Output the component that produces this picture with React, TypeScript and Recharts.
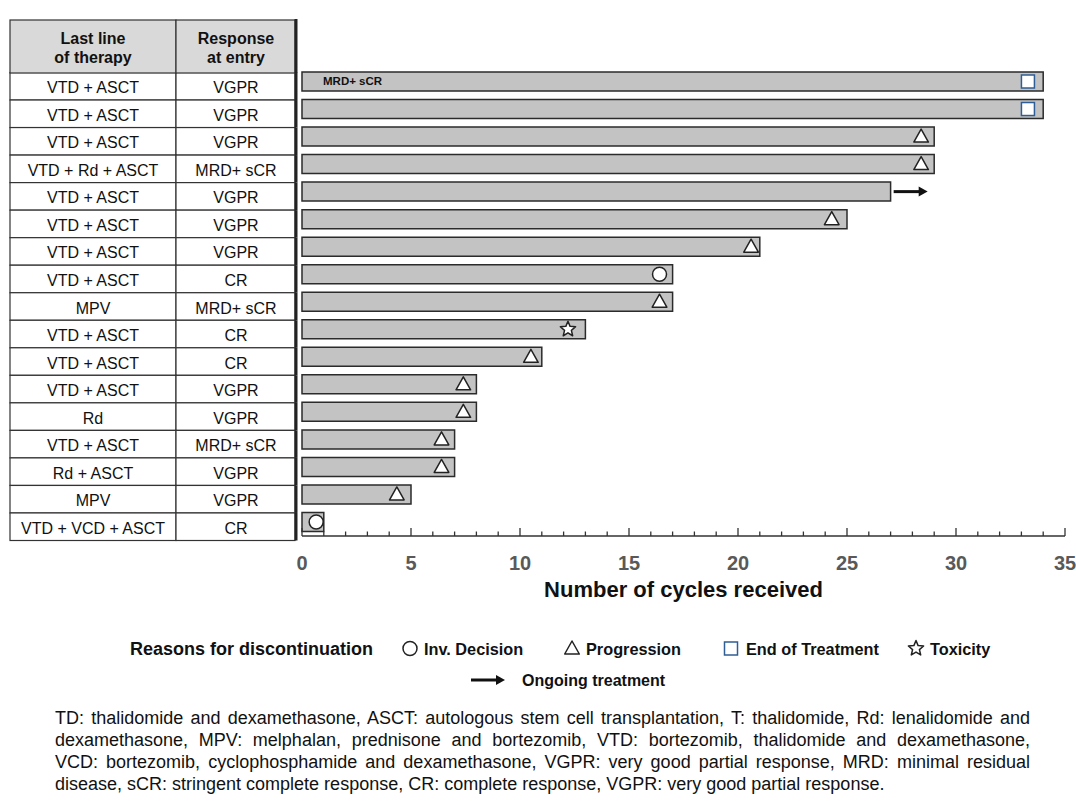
import React from 'react';
import { ComposedChart, Bar, XAxis, YAxis, LabelList } from 'recharts';

const FONT = '"Liberation Sans", Arial, sans-serif';

// table columns
const therapies = [
    'VTD + ASCT', 'VTD + ASCT', 'VTD + ASCT', 'VTD + Rd + ASCT', 'VTD + ASCT', 'VTD + ASCT',
    'VTD + ASCT', 'VTD + ASCT', 'MPV', 'VTD + ASCT', 'VTD + ASCT', 'VTD + ASCT', 'Rd',
    'VTD + ASCT', 'Rd + ASCT', 'MPV', 'VTD + VCD + ASCT',
];
const responses = [
    'VGPR', 'VGPR', 'VGPR', 'MRD+ sCR', 'VGPR', 'VGPR', 'VGPR', 'CR', 'MRD+ sCR', 'CR', 'CR',
    'VGPR', 'VGPR', 'MRD+ sCR', 'VGPR', 'VGPR', 'CR',
];

// bars
const cycles = [34, 34, 29, 29, 27, 25, 21, 17, 17, 13, 11, 8, 8, 7, 7, 5, 1];
const reasons = [
    'end', 'end', 'progression', 'progression', 'ongoing', 'progression', 'progression', 'decision',
    'progression', 'toxicity', 'progression', 'progression', 'progression', 'progression',
    'progression', 'progression', 'decision',
];
const reasonAt = [33.3, 33.3, 28.4, 28.4, 28.7, 24.3, 20.6, 16.4, 16.4, 12.2, 10.5, 7.4, 7.4, 6.4, 6.4, 4.35, 0.65];
const notes = ['MRD+ sCR', '', '', '', '', '', '', '', '', '', '', '', '', '', '', '', ''];

const xTicks = [
    0, 1, 2, 3, 4, 5, 6, 7, 8, 9, 10, 11, 12, 13, 14, 15, 16, 17, 18, 19, 20, 21, 22, 23, 24, 25, 26,
    27, 28, 29, 30, 31, 32, 33, 34, 35,
];
const xLabels = [0, 5, 10, 15, 20, 25, 30, 35];

const legendItems = [
    { type: 'decision', label: 'Inv. Decision', icon: 410, text: 424 },
    { type: 'progression', label: 'Progression', icon: 572, text: 586 },
    { type: 'end', label: 'End of Treatment', icon: 731, text: 746 },
    { type: 'toxicity', label: 'Toxicity', icon: 916, text: 930 },
];

const footnote = [
    'TD: thalidomide and dexamethasone, ASCT: autologous stem cell transplantation, T: thalidomide, Rd: lenalidomide and',
    'dexamethasone, MPV: melphalan, prednisone and bortezomib, VTD: bortezomib, thalidomide and dexamethasone,',
    'VCD: bortezomib, cyclophosphamide and dexamethasone, VGPR: very good partial response, MRD: minimal residual',
    'disease, sCR: stringent complete response, CR: complete response, VGPR: very good partial response.',
];

const rows = cycles.map((c, i) => ({
    row: String(i + 1),
    cycles: c,
    reasonAt: reasonAt[i],
    note: notes[i],
}));

const ROW_H = 468 / 17;

const starPath = (cx: number, cy: number, ro: number, ri: number) => {
    const pts: string[] = [];
    for (let k = 0; k < 10; k++) {
        const r = k % 2 === 0 ? ro : ri;
        const a = -Math.PI / 2 + (k * Math.PI) / 5;
        pts.push(`${cx + r * Math.cos(a)},${cy + r * Math.sin(a)}`);
    }
    return `M${pts.join('L')}Z`;
};

const Marker = ({ type, cx, cy }: { type: string; cx: number; cy: number }) => {
    switch (type) {
        case 'progression':
            return (
                <path
                    d={`M${cx},${cy - 7.5}L${cx + 7.3},${cy + 5.5}L${cx - 7.3},${cy + 5.5}Z`}
                    fill="#fff"
                    stroke="#222"
                    strokeWidth={1.5}
                    strokeLinejoin="round"
                />
            );
        case 'decision':
            return <circle cx={cx} cy={cy} r={7} fill="#fff" stroke="#222" strokeWidth={1.5} />;
        case 'end':
            return (
                <rect x={cx - 6.5} y={cy - 6.5} width={13} height={13} fill="#fff" stroke="#2f5d95" strokeWidth={1.5} />
            );
        case 'toxicity':
            return <path d={starPath(cx, cy, 8, 3.6)} fill="#fff" stroke="#222" strokeWidth={1.5} strokeLinejoin="round" />;
        case 'ongoing':
            return (
                <g>
                    <line x1={cx - 34} x2={cx - 8} y1={cy} y2={cy} stroke="#111" strokeWidth={3} />
                    <path d={`M${cx},${cy}L${cx - 9},${cy - 5}L${cx - 9},${cy + 5}Z`} fill="#111" />
                </g>
            );
        default:
            return null;
    }
};

const ReasonShape = (props: any) => {
    const { x, y, width, height, index } = props;
    return <Marker type={reasons[index]} cx={x + width} cy={y + height / 2} />;
};

const NoteLabel = (props: any) => {
    const { x, y, value } = props;
    if (!value) return null;
    return (
        <text x={x + 21} y={y + 13} fontSize={11.5} fontWeight="bold" fill="#111" fontFamily={FONT}>
            {value}
        </text>
    );
};

const TableRow = (props: any) => {
    const { y, payload } = props;
    const i = Number(payload.value) - 1;
    const top = y + 4.5 - ROW_H / 2;
    return (
        <g>
            <rect x={10} y={top} width={166} height={ROW_H} fill="#fff" stroke="#333" strokeWidth={1.2} />
            <rect x={176} y={top} width={119} height={ROW_H} fill="#fff" stroke="#333" strokeWidth={1.2} />
            <line x1={296} x2={296} y1={top} y2={top + ROW_H} stroke="#222" strokeWidth={3} />
            <text x={93} y={top + ROW_H / 2 + 7} textAnchor="middle" fontSize={16} fill="#111" fontFamily={FONT}>
                {therapies[i]}
            </text>
            <text x={236} y={top + ROW_H / 2 + 7} textAnchor="middle" fontSize={16} fill="#111" fontFamily={FONT}>
                {responses[i]}
            </text>
        </g>
    );
};

const CycleTick = (props: any) => {
    const { x, y, payload } = props;
    const major = xLabels.includes(payload.value);
    return (
        <g>
            <line x1={x} x2={x} y1={y} y2={y - (major ? 8 : 4.5)} stroke="#333" strokeWidth={1.3} />
            {major && (
                <text x={x} y={y + 34} textAnchor="middle" fontSize={20} fontWeight="bold" fill="#595959" fontFamily={FONT}>
                    {payload.value}
                </text>
            )}
        </g>
    );
};

const App = () => {
    return (
        <div style={{ position: 'relative', width: 1076, height: 803, background: '#fff', fontFamily: FONT }}>
            <style>{'body{margin:0}'}</style>
            <ComposedChart
                width={1076}
                height={620}
                data={rows}
                layout="vertical"
                barGap={-19}
                margin={{ top: 68, right: 11, bottom: 24, left: 0 }}
                style={{ overflow: 'visible' }}
            >
                <XAxis
                    type="number"
                    domain={[0, 35]}
                    ticks={xTicks}
                    interval={0}
                    height={60}
                    tickSize={0}
                    tickMargin={0}
                    tickLine={false}
                    axisLine={{ stroke: '#333', strokeWidth: 1.5 }}
                    tick={<CycleTick />}
                    label={{
                        value: 'Number of cycles received',
                        position: 'insideBottom',
                        offset: -1,
                        style: { fontSize: 22, fontWeight: 'bold', fill: '#111', fontFamily: FONT },
                    }}
                />
                <YAxis
                    type="category"
                    dataKey="row"
                    width={302}
                    interval={0}
                    axisLine={false}
                    tickLine={false}
                    tick={<TableRow />}
                />
                <Bar
                    dataKey="cycles"
                    barSize={19}
                    fill="#c3c3c3"
                    stroke="#2b2b2b"
                    strokeWidth={1.5}
                    isAnimationActive={false}
                >
                    <LabelList dataKey="note" content={<NoteLabel />} />
                </Bar>
                <Bar dataKey="reasonAt" barSize={19} fill="none" shape={<ReasonShape />} isAnimationActive={false} />
            </ComposedChart>

            <svg
                width={1076}
                height={803}
                style={{ position: 'absolute', left: 0, top: 0, pointerEvents: 'none' }}
                fontFamily={FONT}
            >
                {/* table header */}
                <rect x={10} y={20} width={166} height={53} fill="#d9d9d9" stroke="#333" strokeWidth={1.2} />
                <rect x={176} y={20} width={119} height={53} fill="#d9d9d9" stroke="#333" strokeWidth={1.2} />
                <line x1={296} x2={296} y1={19} y2={73} stroke="#222" strokeWidth={3} />
                <text x={93} y={44} textAnchor="middle" fontSize={16} fontWeight="bold" fill="#111">Last line</text>
                <text x={93} y={63} textAnchor="middle" fontSize={16} fontWeight="bold" fill="#111">of therapy</text>
                <text x={236} y={44} textAnchor="middle" fontSize={16} fontWeight="bold" fill="#111">Response</text>
                <text x={236} y={63} textAnchor="middle" fontSize={16} fontWeight="bold" fill="#111">at entry</text>

                {/* legend */}
                <text x={130} y={655} fontSize={18} fontWeight="bold" fill="#111">Reasons for discontinuation</text>
                {legendItems.map((it) => (
                    <g key={it.type}>
                        <Marker type={it.type} cx={it.icon} cy={648.5} />
                        <text x={it.text} y={654.5} fontSize={16.3} fontWeight="bold" fill="#111">{it.label}</text>
                    </g>
                ))}
                <Marker type="ongoing" cx={505} cy={680} />
                <text x={522} y={685.5} fontSize={16} fontWeight="bold" fill="#111">Ongoing treatment</text>
            </svg>

            <div style={{ position: 'absolute', left: 55, top: 707, width: 975, fontSize: 18, lineHeight: '22px', color: '#111' }}>
                {footnote.map((line, i) => (
                    <div key={i} style={{ textAlign: 'justify', textAlignLast: i < footnote.length - 1 ? 'justify' : 'left', whiteSpace: 'nowrap' }}>
                        {line}
                    </div>
                ))}
            </div>
        </div>
    );
};

export default App;
